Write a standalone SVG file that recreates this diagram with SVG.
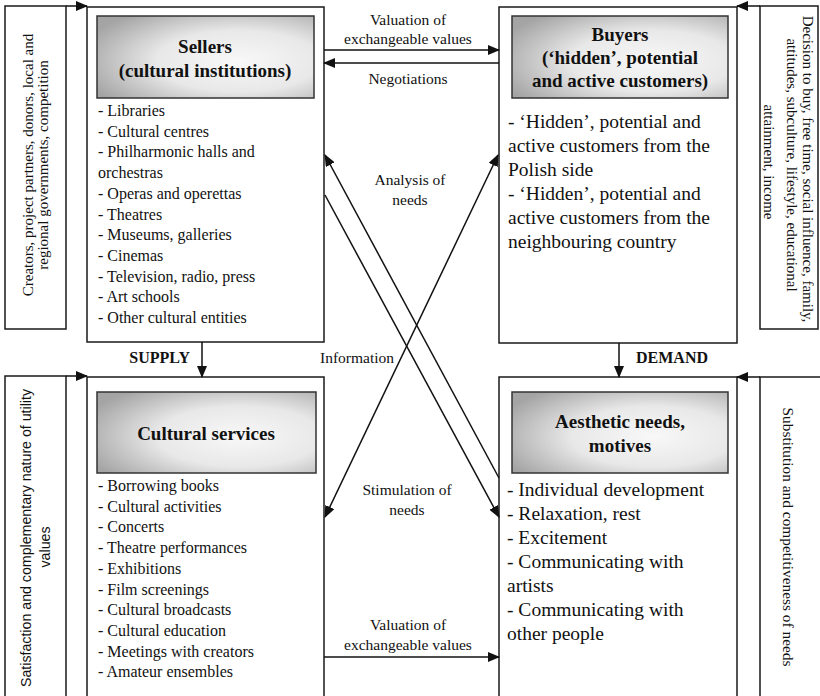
<svg xmlns="http://www.w3.org/2000/svg" width="820" height="696" viewBox="0 0 820 696">
<defs>
<radialGradient id="hdr" cx="0.65" cy="0.55" r="0.75">
<stop offset="0" stop-color="#f8f8f8"/>
<stop offset="0.5" stop-color="#e8e8e8"/>
<stop offset="1" stop-color="#a4a4a4"/>
</radialGradient>
<marker id="ah" markerUnits="userSpaceOnUse" markerWidth="12" markerHeight="10" refX="11" refY="5" orient="auto-start-reverse">
<path d="M0,0 L12,5 L0,10 Z" fill="#111"/>
</marker>
</defs>
<style>
.box{fill:#fff;stroke:#1a1a1a;stroke-width:1.5}
.hdr{fill:url(#hdr);stroke:#333;stroke-width:1.5}
.ht{font-family:"Liberation Serif",serif;font-weight:bold;font-size:19px;fill:#111;text-anchor:middle}
.it{font-family:"Liberation Serif",serif;font-size:16px;fill:#111}
.bt{font-family:"Liberation Serif",serif;font-size:19.5px;fill:#111}
.lb{font-family:"Liberation Serif",serif;font-size:15.5px;fill:#111;text-anchor:middle}
.sd{font-family:"Liberation Serif",serif;font-size:15px;fill:#111;text-anchor:middle}
.ss{font-family:"Liberation Sans",sans-serif;font-size:14.2px;fill:#111;text-anchor:middle}
.bl{font-family:"Liberation Serif",serif;font-weight:bold;font-size:16px;fill:#111}
.cn{stroke:#111;stroke-width:1.5;fill:none}
</style>

<g id="side-top-left">
<rect class="box" x="5" y="6" width="61" height="323"/>
<text class="sd" transform="translate(33,165) rotate(-90)">Creators, project partners, donors, local and</text>
<text class="sd" transform="translate(48,165) rotate(-90)">regional governments, competition</text>
</g>

<g id="side-top-right">
<rect class="box" x="760" y="6" width="58" height="323"/>
<text class="sd" transform="translate(803,169) rotate(90)">Decision to buy, free time, social influence, family,</text>
<text class="sd" transform="translate(787,165) rotate(90)">attitudes, subculture, lifestyle, educational</text>
<text class="sd" transform="translate(764,162) rotate(90)">attainment, income</text>
</g>

<g id="side-bottom-left">
<rect class="box" x="5" y="376" width="61" height="330"/>
<text class="ss" transform="translate(31,538) rotate(-90)">Satisfaction and complementary nature of utility</text>
<text class="ss" transform="translate(50,547) rotate(-90)">values</text>
</g>

<g id="side-bottom-right">
<rect class="box" x="760" y="377" width="64" height="330"/>
<text class="sd" style="font-size:15.4px" transform="translate(783,537) rotate(90)">Substitution and competitiveness of needs</text>
</g>

<g id="sellers">
<rect class="box" x="87" y="7" width="237" height="335"/>
<rect class="hdr" x="97" y="16" width="217" height="82"/>
<text class="ht" x="205" y="53">Sellers</text>
<text class="ht" x="205" y="77">(cultural institutions)</text>
<text class="it" x="98" y="116">- Libraries</text>
<text class="it" x="98" y="136.7">- Cultural centres</text>
<text class="it" x="98" y="157.4">- Philharmonic halls and</text>
<text class="it" x="98" y="178.1">orchestras</text>
<text class="it" x="98" y="198.8">- Operas and operettas</text>
<text class="it" x="98" y="219.5">- Theatres</text>
<text class="it" x="98" y="240.2">- Museums, galleries</text>
<text class="it" x="98" y="260.9">- Cinemas</text>
<text class="it" x="98" y="281.6">- Television, radio, press</text>
<text class="it" x="98" y="302.3">- Art schools</text>
<text class="it" x="98" y="323">- Other cultural entities</text>
</g>

<g id="buyers">
<rect class="box" x="499" y="7" width="238" height="336"/>
<rect class="hdr" x="512" y="16" width="216" height="82"/>
<text class="ht" x="620" y="41">Buyers</text>
<text class="ht" x="620" y="64">(‘hidden’, potential</text>
<text class="ht" x="620" y="87">and active customers)</text>
<text class="bt" x="508" y="128">- ‘Hidden’, potential and</text>
<text class="bt" x="508" y="152">active customers from the</text>
<text class="bt" x="508" y="176">Polish side</text>
<text class="bt" x="508" y="200">- ‘Hidden’, potential and</text>
<text class="bt" x="508" y="224">active customers from the</text>
<text class="bt" x="508" y="248">neighbouring country</text>
</g>

<g id="cultural-services">
<rect class="box" x="87" y="377" width="237" height="330"/>
<rect class="hdr" x="97" y="392" width="219" height="81"/>
<text class="ht" x="206" y="440">Cultural services</text>
<text class="it" x="98" y="491">- Borrowing books</text>
<text class="it" x="98" y="511.7">- Cultural activities</text>
<text class="it" x="98" y="532.4">- Concerts</text>
<text class="it" x="98" y="553.1">- Theatre performances</text>
<text class="it" x="98" y="573.8">- Exhibitions</text>
<text class="it" x="98" y="594.5">- Film screenings</text>
<text class="it" x="98" y="615.2">- Cultural broadcasts</text>
<text class="it" x="98" y="635.9">- Cultural education</text>
<text class="it" x="98" y="656.6">- Meetings with creators</text>
<text class="it" x="98" y="677.3">- Amateur ensembles</text>
</g>

<g id="aesthetic-needs">
<rect class="box" x="499" y="377" width="238" height="330"/>
<rect class="hdr" x="512" y="392" width="216" height="81"/>
<text class="ht" x="620" y="428">Aesthetic needs,</text>
<text class="ht" x="620" y="452">motives</text>
<text class="bt" x="507" y="496">- Individual development</text>
<text class="bt" x="507" y="520">- Relaxation, rest</text>
<text class="bt" x="507" y="544">- Excitement</text>
<text class="bt" x="507" y="568">- Communicating with</text>
<text class="bt" x="507" y="592">artists</text>
<text class="bt" x="507" y="616">- Communicating with</text>
<text class="bt" x="507" y="640">other people</text>
</g>

<g id="connectors">
<line class="cn" x1="66" y1="6" x2="87" y2="6" marker-end="url(#ah)"/>
<line class="cn" x1="760" y1="6" x2="737" y2="6" marker-end="url(#ah)"/>
<line class="cn" x1="66" y1="376" x2="87" y2="376" marker-end="url(#ah)"/>
<line class="cn" x1="760" y1="377" x2="737" y2="377" marker-end="url(#ah)"/>
<line class="cn" x1="324" y1="50" x2="499" y2="50" marker-end="url(#ah)"/>
<line class="cn" x1="499" y1="63" x2="324" y2="63" marker-end="url(#ah)"/>
<line class="cn" x1="202" y1="342" x2="202" y2="377" marker-end="url(#ah)"/>
<line class="cn" x1="619" y1="343" x2="619" y2="377" marker-end="url(#ah)"/>
<line class="cn" x1="499" y1="478" x2="325" y2="155" marker-end="url(#ah)"/>
<line class="cn" x1="325" y1="195" x2="499" y2="517" marker-end="url(#ah)"/>
<line class="cn" x1="325" y1="517" x2="498" y2="155" marker-start="url(#ah)" marker-end="url(#ah)"/>
<line class="cn" x1="324" y1="657" x2="499" y2="657" marker-end="url(#ah)"/>
<text class="lb" x="408" y="25">Valuation of</text>
<text class="lb" x="408" y="44">exchangeable values</text>
<text class="lb" x="408" y="84">Negotiations</text>
<text class="lb" x="410" y="185">Analysis of</text>
<text class="lb" x="410" y="205">needs</text>
<text class="lb" x="357" y="363">Information</text>
<text class="lb" x="407" y="495">Stimulation of</text>
<text class="lb" x="407" y="515">needs</text>
<text class="lb" x="408" y="630">Valuation of</text>
<text class="lb" x="408" y="650">exchangeable values</text>
<text class="bl" x="190" y="363" text-anchor="end">SUPPLY</text>
<text class="bl" x="636" y="363">DEMAND</text>
</g>
</svg>
